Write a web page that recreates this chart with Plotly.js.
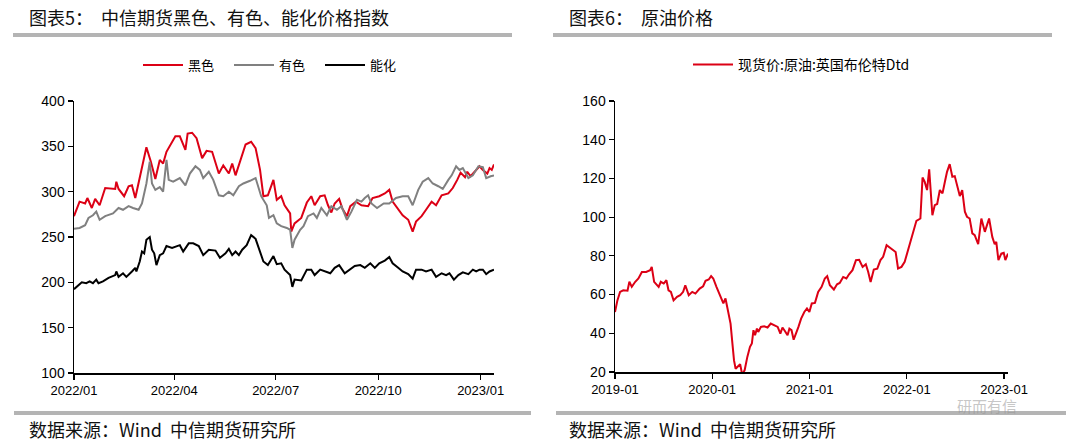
<!DOCTYPE html>
<html>
<head>
<meta charset="utf-8">
<script src="https://cdn.plot.ly/plotly-3.0.1.min.js"></script>
<style>html,body{margin:0;padding:0;background:#fff;}#chart{width:1080px;height:445px;}</style>
</head>
<body>
<div id="chart"></div>
<script>
// ---------- Left chart: 中信期货黑色、有色、能化价格指数 ----------
const blackSectorDates = [
 '2022-01-01','2022-01-06','2022-01-11','2022-01-13','2022-01-17','2022-01-20','2022-01-24','2022-01-29',
 '2022-02-07','2022-02-08','2022-02-10','2022-02-15','2022-02-19','2022-02-22','2022-02-25',
 '2022-03-03','2022-03-07','2022-03-11','2022-03-15','2022-03-19','2022-03-22','2022-03-25',
 '2022-04-02','2022-04-06','2022-04-11','2022-04-13','2022-04-17','2022-04-21','2022-04-26','2022-04-30',
 '2022-05-05','2022-05-11','2022-05-15','2022-05-20','2022-05-23','2022-05-26','2022-05-30',
 '2022-06-04','2022-06-09','2022-06-13','2022-06-17','2022-06-20','2022-06-24','2022-06-29',
 '2022-07-02','2022-07-06','2022-07-09','2022-07-14','2022-07-15','2022-07-18','2022-07-24','2022-07-29',
 '2022-08-02','2022-08-05','2022-08-10','2022-08-14','2022-08-17','2022-08-20','2022-08-23','2022-08-27','2022-08-30',
 '2022-09-03','2022-09-06','2022-09-11','2022-09-16','2022-09-22','2022-09-26',
 '2022-10-02','2022-10-07','2022-10-11','2022-10-14','2022-10-19','2022-10-23','2022-10-28',
 '2022-11-01','2022-11-04','2022-11-09','2022-11-13','2022-11-18','2022-11-22','2022-11-27',
 '2022-12-03','2022-12-07','2022-12-11','2022-12-14','2022-12-18','2022-12-20','2022-12-23','2022-12-28','2022-12-31',
 '2023-01-03','2023-01-07','2023-01-09','2023-01-11','2023-01-13'];
const blackSectorValues = [
 273,289,287,293,282,292,285,304,
 303,311,303,295,306,307,293,
 328,349,333,314,335,331,344,
 361,361,346,364,365,359,337,345,
 344,320,329,320,331,318,333,
 352,355,348,324,295,296,313,
 291,295,285,276,256,265,271,288,
 295,285,295,296,285,277,287,292,281,
 273,284,289,285,284,293,
 295,298,302,289,280,274,269,
 256,267,273,280,289,285,296,
 298,304,313,321,316,322,317,324,328,
 324,320,326,324,330];

const metalsDates = [
 '2022-01-01','2022-01-06','2022-01-11','2022-01-14','2022-01-18','2022-01-21','2022-01-24','2022-01-29',
 '2022-02-05','2022-02-10','2022-02-14','2022-02-19','2022-02-23','2022-02-28',
 '2022-03-03','2022-03-07','2022-03-10','2022-03-12','2022-03-15','2022-03-19','2022-03-22','2022-03-25','2022-03-27','2022-03-31',
 '2022-04-06','2022-04-11','2022-04-15','2022-04-20','2022-04-24','2022-04-27',
 '2022-05-02','2022-05-06','2022-05-11','2022-05-15','2022-05-20','2022-05-24','2022-05-29',
 '2022-06-02','2022-06-08','2022-06-13','2022-06-18','2022-06-23','2022-06-25','2022-06-29',
 '2022-07-02','2022-07-06','2022-07-11','2022-07-14','2022-07-16','2022-07-18','2022-07-23','2022-07-26','2022-07-30',
 '2022-08-04','2022-08-07','2022-08-11','2022-08-16','2022-08-20','2022-08-25','2022-08-29',
 '2022-09-03','2022-09-07','2022-09-12','2022-09-16','2022-09-19','2022-09-22','2022-09-25','2022-09-30',
 '2022-10-06','2022-10-11','2022-10-17','2022-10-23','2022-10-28',
 '2022-11-01','2022-11-06','2022-11-10','2022-11-15','2022-11-19','2022-11-24','2022-11-28',
 '2022-12-03','2022-12-06','2022-12-10','2022-12-13','2022-12-16','2022-12-21','2022-12-25','2022-12-30',
 '2023-01-03','2023-01-06','2023-01-10','2023-01-13'];
const metalsValues = [
 259,260,263,271,274,278,269,273,
 276,282,280,284,282,280,
 287,309,333,309,302,305,300,335,313,311,
 315,307,320,328,324,315,
 322,313,296,295,300,296,306,
 309,312,315,295,285,271,274,
 265,262,260,258,238,247,258,262,273,
 276,271,282,274,284,280,284,
 269,278,291,289,293,296,287,282,
 287,287,293,295,295,
 285,302,311,315,309,306,303,
 313,318,328,324,326,315,318,328,
 327,315,317,318];

const energyChemDates = [
 '2022-01-01','2022-01-05','2022-01-08','2022-01-12','2022-01-15','2022-01-18','2022-01-21','2022-01-23','2022-01-27',
 '2022-02-01','2022-02-07','2022-02-08','2022-02-10','2022-02-14','2022-02-17','2022-02-22','2022-02-25','2022-02-26',
 '2022-03-01','2022-03-03','2022-03-05','2022-03-07','2022-03-10','2022-03-12','2022-03-14','2022-03-16','2022-03-19','2022-03-22','2022-03-25','2022-03-30',
 '2022-04-03','2022-04-06','2022-04-09','2022-04-14','2022-04-18','2022-04-23','2022-04-27',
 '2022-05-02','2022-05-08','2022-05-12','2022-05-17','2022-05-20','2022-05-23','2022-05-26','2022-05-29',
 '2022-06-01','2022-06-05','2022-06-09','2022-06-13','2022-06-16','2022-06-20','2022-06-24','2022-06-29',
 '2022-07-02','2022-07-06','2022-07-09','2022-07-14','2022-07-16','2022-07-18','2022-07-24','2022-07-29',
 '2022-08-02','2022-08-05','2022-08-10','2022-08-14','2022-08-19','2022-08-23','2022-08-27',
 '2022-09-01','2022-09-06','2022-09-10','2022-09-15','2022-09-19','2022-09-24','2022-09-28',
 '2022-10-02','2022-10-07','2022-10-11','2022-10-14','2022-10-19','2022-10-23','2022-10-28',
 '2022-11-01','2022-11-04','2022-11-09','2022-11-13','2022-11-18','2022-11-22','2022-11-27',
 '2022-12-01','2022-12-04','2022-12-08','2022-12-12','2022-12-16','2022-12-21','2022-12-25','2022-12-28','2022-12-31',
 '2023-01-03','2023-01-06','2023-01-09','2023-01-13'];
const energyChemValues = [
 192.5,197,200,199,201,199,203,199,201,
 205,208,212,206,210,206,212,216,212,
 223,234,232,247,250,236,232,219,230,232,240,238,
 240,241,234,243,243,240,230,
 236,235,227,232,237,230,234,230,
 236,241,252,248,238,223,219,229,
 220,221,214,208,195,203,202,214,
 214,208,214,212,210,216,219,
 210,214,218,219,216,221,216,
 221,224,228,221,216,212,209,
 204,214,214,212,214,206,210,
 208,210,203,208,211,209,214,212,214,
 214,209,212,214];

const leftTickDates = ['2022-01-01','2022-04-01','2022-07-01','2022-10-01','2023-01-01'];
const leftTickText  = ['2022/01','2022/04','2022/07','2022/10','2023/01'];
const leftSeriesNames = ['黑色','有色','能化'];

// ---------- Right chart: 原油价格 ----------
const brentDates = [
 '2019-01-01','2019-01-10','2019-01-20','2019-02-01','2019-02-17','2019-02-24','2019-03-05','2019-03-18','2019-03-30',
 '2019-04-12','2019-04-28','2019-05-13','2019-05-19','2019-05-28','2019-06-14','2019-06-22','2019-07-03','2019-07-13',
 '2019-07-21','2019-07-30','2019-08-09','2019-08-22','2019-09-03','2019-09-14','2019-09-22','2019-10-05','2019-10-18',
 '2019-10-30','2019-11-15','2019-11-28','2019-12-07','2019-12-19','2019-12-28',
 '2020-01-05','2020-01-17','2020-02-02','2020-02-12','2020-02-20','2020-02-24','2020-03-04','2020-03-10','2020-03-17',
 '2020-03-23','2020-03-29','2020-04-08','2020-04-15','2020-04-23','2020-05-02','2020-05-12','2020-05-22','2020-05-29',
 '2020-06-04','2020-06-10','2020-06-17','2020-06-22','2020-07-02','2020-07-14','2020-07-27','2020-08-08','2020-08-21',
 '2020-09-03','2020-09-13','2020-09-21','2020-09-30','2020-10-10','2020-10-17','2020-10-25','2020-11-02','2020-11-11',
 '2020-11-20','2020-11-30','2020-12-12','2020-12-22','2020-12-31',
 '2021-01-09','2021-01-21','2021-02-02','2021-02-15','2021-02-27','2021-03-08','2021-03-18','2021-04-02','2021-04-14',
 '2021-04-24','2021-05-07','2021-05-19','2021-05-29','2021-06-11','2021-06-24','2021-07-06','2021-07-19','2021-07-31',
 '2021-08-09','2021-08-18','2021-08-30','2021-09-12','2021-09-24','2021-10-04','2021-10-17','2021-10-29','2021-11-13',
 '2021-11-20','2021-11-29','2021-12-12','2021-12-24',
 '2022-01-06','2022-01-22','2022-02-06','2022-02-21','2022-03-01','2022-03-09','2022-03-18','2022-03-26','2022-04-07',
 '2022-04-16','2022-04-25','2022-05-05','2022-05-15','2022-05-24','2022-06-01','2022-06-11','2022-06-21','2022-06-30',
 '2022-07-09','2022-07-19','2022-07-28','2022-08-07','2022-08-15','2022-08-25','2022-09-04','2022-09-13','2022-09-26',
 '2022-10-08','2022-10-21','2022-11-06','2022-11-18','2022-11-27','2022-12-03','2022-12-11','2022-12-22','2022-12-31',
 '2023-01-06','2023-01-16'];
const brentValues = [
 51,57,61.4,62.2,62,66.6,64,66.6,68.3,
 71.7,71.7,72.6,74.3,66.6,64,66.6,65.7,67.4,
 62.2,61.4,57,58.8,59.7,61.4,64.8,59.7,61.4,
 60.5,63.1,64.3,67.1,67.8,69.5,
 68.3,64,58.8,55.4,58,55.4,48.5,45,34.7,
 26,21.7,23.4,24,18.5,21,27.8,33,34.7,
 41.6,39,42.4,40.7,43.3,43.6,43,45,44.2,
 43.3,39.8,43,41.2,39,42.4,41.6,36.7,39.8,
 43.3,47.6,51,52.8,51,
 55.4,55.7,61.4,64,68.3,69.5,64.8,62.6,65.3,
 66,69.1,68.3,70.5,72.6,77.8,78,74.3,75.7,
 71.7,66.5,72.9,73.4,77.8,79.5,85.5,84.3,83,
 82,73.5,74.3,76.9,
 82.9,91.6,98.1,99.3,120.5,118.3,114,124.7,101,
 106.2,106.8,114,112.3,118.3,123.4,127.4,120.9,121.2,
 115.7,110.9,114,102.8,100.2,99.3,91.6,90.7,86,
 99.3,92.4,99.3,89.8,86,87.2,77.8,81.2,81.6,
 77.8,81.2];
const rightTickDates = ['2019-01-01','2020-01-01','2021-01-01','2022-01-01','2023-01-01'];
const rightTickText  = ['2019-01','2020-01','2021-01','2022-01','2023-01'];
const brentName = '现货价:原油:英国布伦特Dtd';

// ---------- Texts ----------
const leftTitle = '图表5：  中信期货黑色、有色、能化价格指数';
const rightTitle = '图表6：  原油价格';
const sourceText = '数据来源：Wind  中信期货研究所';
const watermarkText = '研而有信';

// ---------- Layout helpers (pixel -> paper) ----------
const W = 1080, H = 445;
const px = v => v / W;
const py = v => (H - v) / H;

const RED = '#dc0015', GRAY = '#808080', BLACK = '#000000';
const CJK = '"Noto Sans CJK SC", "Noto Sans", sans-serif';
const NUM = '"Liberation Sans", Arial, sans-serif';

const traces = [
  {x: blackSectorDates, y: blackSectorValues, name: leftSeriesNames[0], type: 'scatter', mode: 'lines',
   line: {color: RED, width: 2}, xaxis: 'x', yaxis: 'y', legend: 'legend'},
  {x: metalsDates, y: metalsValues, name: leftSeriesNames[1], type: 'scatter', mode: 'lines',
   line: {color: GRAY, width: 2}, xaxis: 'x', yaxis: 'y', legend: 'legend'},
  {x: energyChemDates, y: energyChemValues, name: leftSeriesNames[2], type: 'scatter', mode: 'lines',
   line: {color: BLACK, width: 2}, xaxis: 'x', yaxis: 'y', legend: 'legend'},
  {x: brentDates, y: brentValues, name: brentName, type: 'scatter', mode: 'lines',
   line: {color: RED, width: 2}, xaxis: 'x2', yaxis: 'y2', legend: 'legend2'}
];

const axisCommon = {
  showline: true, linecolor: '#000', linewidth: 1.5, ticks: 'outside', ticklen: 5, tickwidth: 1.2,
  tickcolor: '#000', showgrid: false, zeroline: false, fixedrange: true,
  tickfont: {family: NUM, size: 14, color: '#000'}
};

const layout = {
  width: W, height: H,
  margin: {l: 0, r: 0, t: 0, b: 0},
  paper_bgcolor: '#fff', plot_bgcolor: '#fff',
  showlegend: true,
  xaxis: Object.assign({}, axisCommon, {
    domain: [px(74), px(494)], anchor: 'y', type: 'date',
    range: ['2022-01-01', '2023-01-13'], tickmode: 'array',
    tickvals: leftTickDates, ticktext: leftTickText,
    tickfont: {family: NUM, size: 13, color: '#000'}
  }),
  yaxis: Object.assign({}, axisCommon, {
    domain: [py(373), py(101)], anchor: 'x', range: [100, 400], dtick: 50, tick0: 100
  }),
  xaxis2: Object.assign({}, axisCommon, {
    domain: [px(615), px(1008)], anchor: 'y2', type: 'date',
    range: ['2019-01-01', '2023-01-16'], tickmode: 'array',
    tickvals: rightTickDates, ticktext: rightTickText,
    tickfont: {family: NUM, size: 13, color: '#000'}
  }),
  yaxis2: Object.assign({}, axisCommon, {
    domain: [py(372), py(101)], anchor: 'x2', range: [20, 160], dtick: 20, tick0: 20
  }),
  legend: {
    orientation: 'h', x: px(138), xanchor: 'left', y: py(65), yanchor: 'middle',
    entrywidth: 36, entrywidthmode: 'pixels', itemwidth: 40,
    font: {family: CJK, size: 13, color: '#000'}, bgcolor: 'rgba(0,0,0,0)', itemclick: false
  },
  legend2: {
    orientation: 'h', x: px(688), xanchor: 'left', y: py(65), yanchor: 'middle', itemwidth: 40,
    font: {family: CJK, size: 14, color: '#000'}, bgcolor: 'rgba(0,0,0,0)', itemclick: false
  },
  shapes: [
    {type: 'rect', xref: 'paper', yref: 'paper', x0: px(13), x1: px(512), y0: py(37), y1: py(33), fillcolor: '#b4b4b4', line: {width: 0}},
    {type: 'rect', xref: 'paper', yref: 'paper', x0: px(553), x1: px(1052), y0: py(37), y1: py(33), fillcolor: '#b4b4b4', line: {width: 0}},
    {type: 'rect', xref: 'paper', yref: 'paper', x0: px(14), x1: px(531), y0: py(415), y1: py(411), fillcolor: '#b4b4b4', line: {width: 0}},
    {type: 'rect', xref: 'paper', yref: 'paper', x0: px(556), x1: px(1066), y0: py(415), y1: py(411), fillcolor: '#b4b4b4', line: {width: 0}}
  ],
  annotations: [
    {text: leftTitle, xref: 'paper', yref: 'paper', x: px(27), y: py(17), xanchor: 'left', yanchor: 'middle',
     showarrow: false, font: {family: CJK, size: 18, color: '#111'}},
    {text: rightTitle, xref: 'paper', yref: 'paper', x: px(567), y: py(17), xanchor: 'left', yanchor: 'middle',
     showarrow: false, font: {family: CJK, size: 18, color: '#111'}},
    {text: sourceText, xref: 'paper', yref: 'paper', x: px(27), y: py(429), xanchor: 'left', yanchor: 'middle',
     showarrow: false, font: {family: CJK, size: 18, color: '#111'}},
    {text: sourceText, xref: 'paper', yref: 'paper', x: px(567), y: py(429), xanchor: 'left', yanchor: 'middle',
     showarrow: false, font: {family: CJK, size: 18, color: '#111'}},
    {text: watermarkText, xref: 'paper', yref: 'paper', x: px(955), y: py(405), xanchor: 'left', yanchor: 'middle',
     showarrow: false, font: {family: CJK, size: 15, color: 'rgba(150,150,150,0.55)'}}
  ]
};

Plotly.newPlot('chart', traces, layout, {displayModeBar: false, staticPlot: true});
</script>
</body>
</html>
